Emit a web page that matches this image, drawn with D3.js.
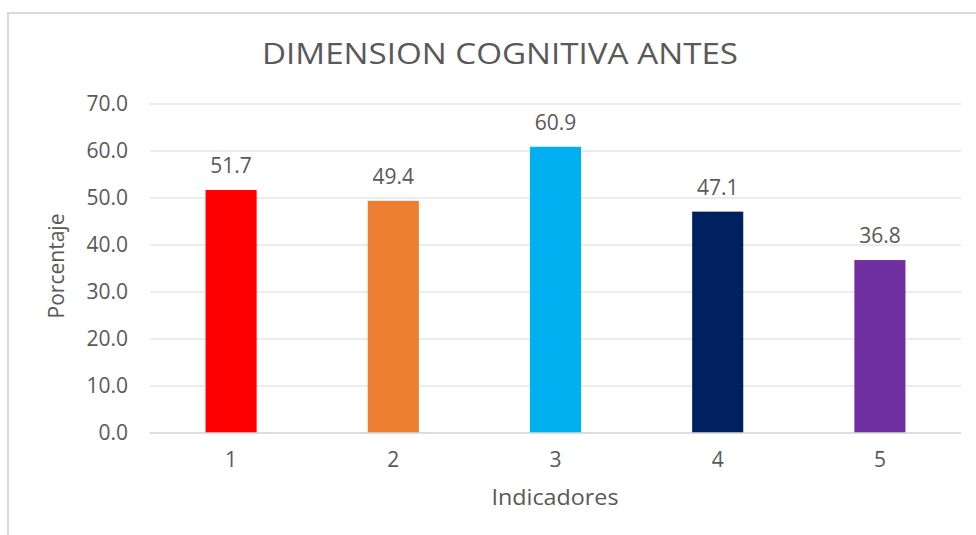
<!DOCTYPE html>
<html>
<head>
<meta charset="utf-8">
<script src="https://d3js.org/d3.v7.min.js"></script>
<style>
  body { margin: 0; background: #fff; }
  text { font-family: "Open Sans", "DejaVu Sans", sans-serif; fill: #595959; }
</style>
</head>
<body>
<div id="chart"></div>
<script>
// data
var indicadores = ["1", "2", "3", "4", "5"];
var porcentaje = [51.7, 49.4, 60.9, 47.1, 36.8];
var colores = ["#FF0000", "#ED7D31", "#00B0F0", "#002060", "#7030A0"];
var yTicks = [0, 10, 20, 30, 40, 50, 60, 70];

var W = 976, H = 535;
var margin = { top: 104, left: 150, right: 15, bottom: 102 };
var width = W - margin.left - margin.right;
var height = H - margin.top - margin.bottom;

var svg = d3.select("#chart")
    .append("svg")
    .attr("width", W)
    .attr("height", H);

// chart frame (left + top visible)
svg.append("rect")
    .attr("x", 8).attr("y", 13)
    .attr("width", W + 20).attr("height", H + 20)
    .attr("fill", "none")
    .attr("stroke", "#d9d9d9")
    .attr("stroke-width", 2);

var g = svg.append("g")
    .attr("transform", "translate(" + margin.left + "," + margin.top + ")");

var x = d3.scaleBand()
    .domain(indicadores)
    .range([0, width])
    .padding(0);

var y = d3.scaleLinear()
    .domain([0, 70])
    .range([height, 0]);

// gridlines
g.selectAll(".grid")
    .data(yTicks)
    .enter()
    .append("line")
    .attr("class", "grid")
    .attr("x1", 0).attr("x2", width)
    .attr("y1", function(d) { return y(d); })
    .attr("y2", function(d) { return y(d); })
    .attr("stroke", "#d9d9d9")
    .attr("stroke-width", 1);

// y tick labels
var yAxis = d3.axisLeft(y).tickValues(yTicks).tickFormat(d3.format(".1f")).tickSize(0).tickPadding(22);
g.append("g")
    .attr("class", "y_axis")
    .call(yAxis)
    .call(function(s) { s.select(".domain").remove(); })
    .selectAll("text")
    .attr("font-size", 21)
    .style("font-family", "'Open Sans', sans-serif")
    .attr("fill", "#595959");

// bars
var barW = x.bandwidth() * 0.315;
g.selectAll(".bar")
    .data(porcentaje)
    .enter()
    .append("rect")
    .attr("class", "bar")
    .attr("x", function(d, i) { return x(indicadores[i]) + (x.bandwidth() - barW) / 2; })
    .attr("y", function(d) { return y(d); })
    .attr("width", barW)
    .attr("height", function(d) { return height - y(d); })
    .attr("fill", function(d, i) { return colores[i]; });

// value labels
g.selectAll(".lbl")
    .data(porcentaje)
    .enter()
    .append("text")
    .attr("class", "lbl")
    .attr("x", function(d, i) { return x(indicadores[i]) + x.bandwidth() / 2; })
    .attr("y", function(d) { return y(d) - 17; })
    .attr("text-anchor", "middle")
    .attr("font-size", 21)
    .text(function(d) { return d3.format(".1f")(d); });

// x axis line
g.append("line")
    .attr("x1", 0).attr("x2", width)
    .attr("y1", height).attr("y2", height)
    .attr("stroke", "#d9d9d9")
    .attr("stroke-width", 1.5);

// x tick labels
var xAxis = d3.axisBottom(x).tickSize(0).tickPadding(19);
g.append("g")
    .attr("class", "x_axis")
    .attr("transform", "translate(0," + height + ")")
    .call(xAxis)
    .call(function(s) { s.select(".domain").remove(); })
    .selectAll("text")
    .attr("font-size", 21)
    .style("font-family", "'Open Sans', sans-serif")
    .attr("fill", "#595959");

// axis titles
svg.append("text")
    .attr("x", 555)
    .attr("y", 505)
    .attr("text-anchor", "middle")
    .attr("font-size", 22)
    .attr("textLength", 127)
    .attr("lengthAdjust", "spacingAndGlyphs")
    .text("Indicadores");

svg.append("text")
    .attr("transform", "translate(64,266) rotate(-90)")
    .attr("text-anchor", "middle")
    .attr("font-size", 21)
    .text("Porcentaje");

// title
svg.append("text")
    .attr("x", 500)
    .attr("y", 64)
    .attr("text-anchor", "middle")
    .attr("font-size", 29)
    .attr("textLength", 476)
    .attr("lengthAdjust", "spacingAndGlyphs")
    .text("DIMENSION COGNITIVA ANTES");
</script>
</body>
</html>
